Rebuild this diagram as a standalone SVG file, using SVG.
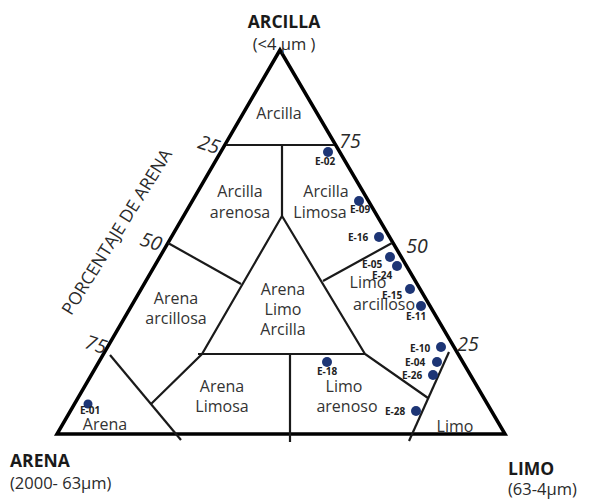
<svg xmlns="http://www.w3.org/2000/svg" width="592" height="499" viewBox="0 0 592 499">
<style>
text{font-family:"Open Sans","Noto Sans","Liberation Sans",sans-serif;}
.outer{fill:none;stroke:#000;stroke-width:3.5;stroke-linejoin:miter;}
.line{fill:none;stroke:#1a1a1a;stroke-width:2.2;}
.reg{font-size:16px;fill:#333;text-anchor:middle;}
.num{font-size:19.5px;font-style:italic;fill:#2a2a2a;text-anchor:middle;}
.axis{font-size:17.5px;font-weight:bold;fill:#1a1a1a;}
.unit{font-size:16.5px;fill:#2a2a2a;}
.pt{fill:#1d3575;}
.lbl{font-size:10px;font-weight:bold;fill:#222;}
</style>
<rect width="592" height="499" fill="#fff"/>
<g id="connectors">
<polygon class="outer" points="280,50 57,434 505,434"/>
<path class="line" d="M226 145 H334"/>
<path class="line" d="M282 145 V216"/>
<path class="line" d="M282 216 L202 354 L151 404"/>
<path class="line" d="M198 354 H365"/>
<path class="line" d="M282 216 L365 354 L428 398"/>
<path class="line" d="M392 243 L323 281"/>
<path class="line" d="M168 243 L241 284"/>
<path class="line" d="M110 355 L181 440"/>
<path class="line" d="M290 354 V442"/>
<path class="line" d="M449 352 L409 441"/>
</g>
<g id="axis-labels">
<text class="axis" x="284" y="28" text-anchor="middle">ARCILLA</text>
<text class="unit" x="284" y="50" text-anchor="middle" font-size="15">(&lt;4 µm )</text>
<text class="axis" x="10" y="467">ARENA</text>
<text class="unit" x="10" y="489">(2000- 63µm)</text>
<text class="axis" x="508" y="475">LIMO</text>
<text class="unit" x="508" y="495">(63-4µm)</text>
<text x="0" y="0" font-size="17.5" fill="#2a2a2a" text-anchor="middle" transform="translate(122,235) rotate(-58)">PORCENTAJE DE ARENA</text>
</g>
<g id="scale">
<text class="num" transform="translate(207,151) rotate(18)">25</text>
<text class="num" transform="translate(149,248) rotate(18)">50</text>
<text class="num" transform="translate(94,351) rotate(18)">75</text>
<text class="num" x="350" y="148">75</text>
<text class="num" x="417" y="253">50</text>
<text class="num" x="468" y="351">25</text>
</g>
<g id="region-arcilla"><text class="reg" x="279" y="119">Arcilla</text></g>
<g id="region-arcilla-arenosa"><text class="reg" x="240" y="197">Arcilla</text><text class="reg" x="240" y="218">arenosa</text></g>
<g id="region-arcilla-limosa"><text class="reg" x="326" y="197">Arcilla</text><text class="reg" x="320" y="218">Limosa</text></g>
<g id="region-arena-arcillosa"><text class="reg" x="176" y="304">Arena</text><text class="reg" x="176" y="324">arcillosa</text></g>
<g id="region-arena-limo-arcilla"><text class="reg" x="283" y="295">Arena</text><text class="reg" x="283" y="315">Limo</text><text class="reg" x="283" y="335">Arcilla</text></g>
<g id="region-limo-arcilloso"><text class="reg" x="368" y="288">Limo</text><text class="reg" x="384" y="310">arcilloso</text></g>
<g id="region-arena-limosa"><text class="reg" x="222" y="392">Arena</text><text class="reg" x="222" y="412">Limosa</text></g>
<g id="region-limo-arenoso"><text class="reg" x="344" y="392">Limo</text><text class="reg" x="347" y="412">arenoso</text></g>
<g id="region-arena"><text class="reg" x="105" y="430">Arena</text></g>
<g id="region-limo"><text class="reg" x="455" y="432">Limo</text></g>
<g id="points">
<g id="E-02"><circle class="pt" cx="328" cy="152" r="5"/><text class="lbl" x="315" y="165">E-02</text></g>
<g id="E-09"><circle class="pt" cx="359" cy="201" r="5"/><text class="lbl" x="350" y="213">E-09</text></g>
<g id="E-16"><circle class="pt" cx="379" cy="237" r="5"/><text class="lbl" x="348" y="241">E-16</text></g>
<g id="E-05"><circle class="pt" cx="390" cy="257" r="5"/><text class="lbl" x="362" y="268">E-05</text></g>
<g id="E-24"><circle class="pt" cx="397" cy="266" r="5"/><text class="lbl" x="372" y="279">E-24</text></g>
<g id="E-15"><circle class="pt" cx="410" cy="289" r="5"/><text class="lbl" x="382" y="299">E-15</text></g>
<g id="E-11"><circle class="pt" cx="421" cy="306" r="5"/><text class="lbl" x="406" y="320">E-11</text></g>
<g id="E-10"><circle class="pt" cx="441" cy="347" r="5"/><text class="lbl" x="410" y="352">E-10</text></g>
<g id="E-04"><circle class="pt" cx="437" cy="362" r="5"/><text class="lbl" x="405" y="366">E-04</text></g>
<g id="E-26"><circle class="pt" cx="433" cy="375" r="5"/><text class="lbl" x="402" y="379">E-26</text></g>
<g id="E-28"><circle class="pt" cx="416" cy="411" r="5"/><text class="lbl" x="385" y="415">E-28</text></g>
<g id="E-18"><circle class="pt" cx="327" cy="362" r="5"/><text class="lbl" x="317" y="375">E-18</text></g>
<g id="E-01"><circle class="pt" cx="88" cy="404" r="4.5"/><text class="lbl" x="80" y="414" font-size="8">E-01</text></g>
</g>
</svg>
